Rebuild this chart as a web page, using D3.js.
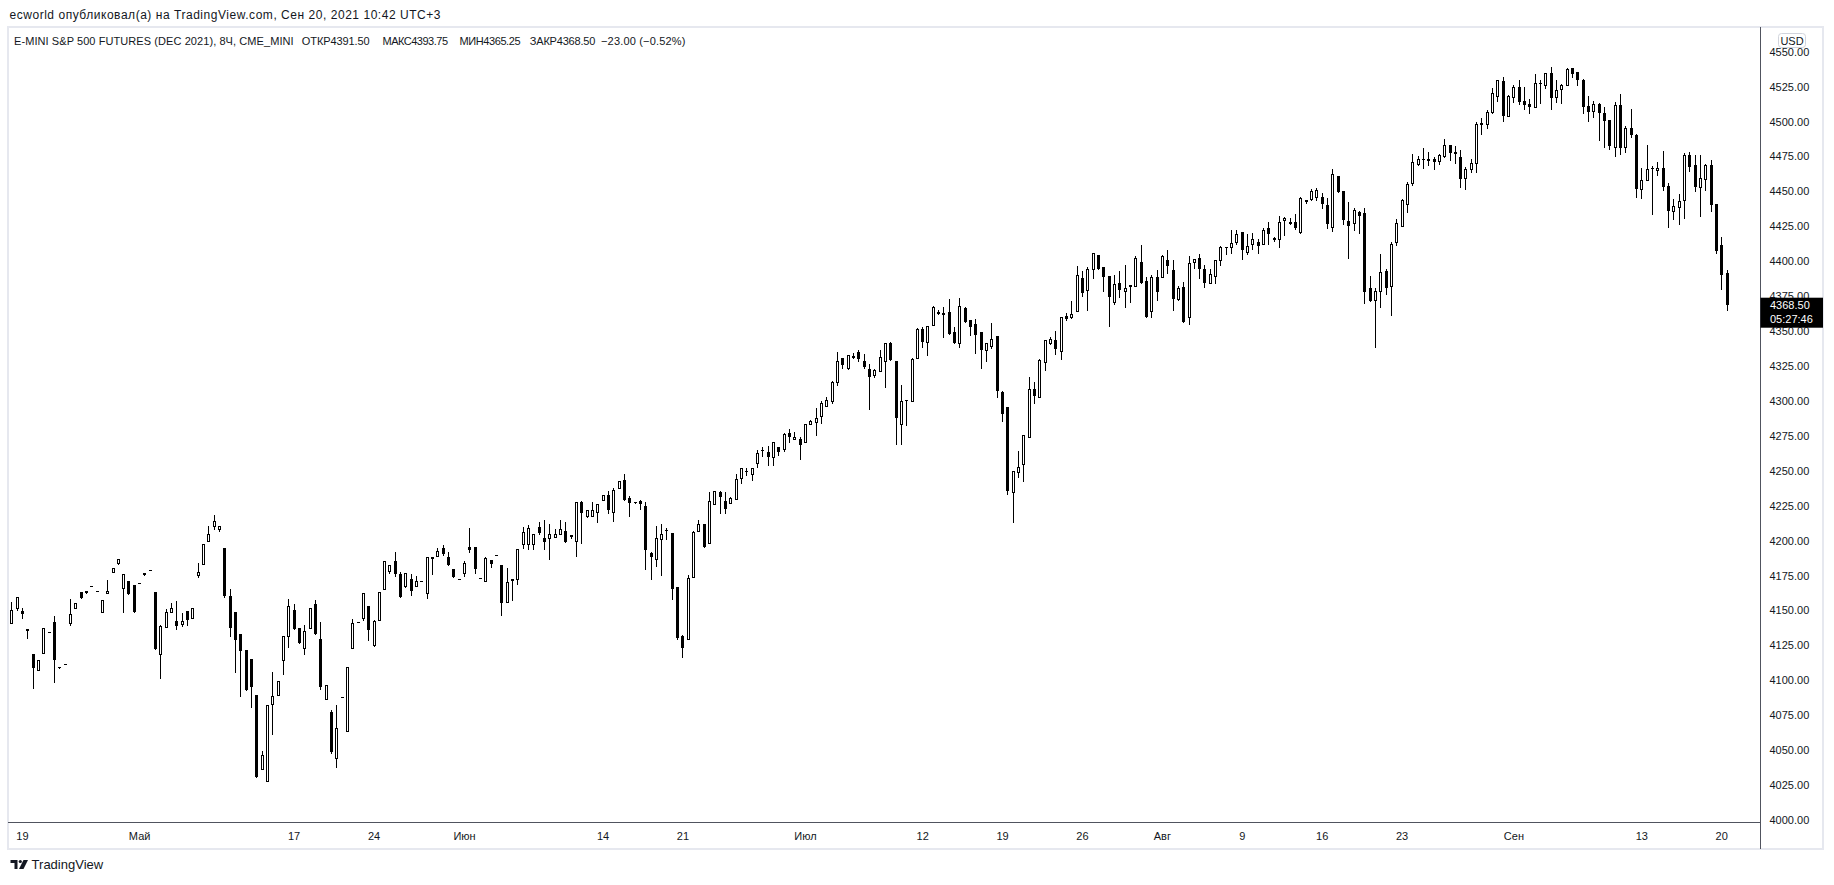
<!DOCTYPE html>
<html>
<head>
<meta charset="utf-8">
<script src="https://cdn.jsdelivr.net/npm/d3@7"></script>
<style>
html,body{margin:0;padding:0;background:#ffffff;}
svg{display:block;font-family:"Liberation Sans",Arial,sans-serif;}
</style>
</head>
<body>
<svg id="chart" width="1834" height="885"></svg>
<script>
// ---------- DATA (8H bars, E-mini S&P 500 Dec 2021) ----------
const openP = [
4140.8,4151.5,4149.6,4136.5,4118.8,4107.2,4119.3,4134.4,4141.8,4109.3,
4111.4,4140.8,4151.5,4163.0,4163.7,4167.3,4163.7,4149.1,4162.3,4177.3,
4184.2,4165.9,4170.9,4168.2,4169.4,4176.6,4178.7,4163.2,4119.1,4138.4,
4149.1,4142.5,4140.3,4149.6,4144.9,4175.2,4183.0,4199.5,4210.2,4208.1,
4194.7,4160.4,4148.9,4132.9,4121.7,4115.3,4089.5,4036.8,4027.5,4083.3,
4089.7,4114.3,4132.0,4150.1,4137.2,4123.4,4137.2,4154.6,4129.6,4086.4,
4077.6,4044.2,4087.8,4064.0,4123.4,4141.5,4144.9,4153.2,4125.5,4143.0,
4165.1,4178.0,4185.2,4176.1,4167.3,4172.5,4167.7,4170.9,4162.3,4187.5,
4188.7,4194.7,4188.3,4179.7,4172.5,4176.6,4195.2,4195.4,4173.2,4171.3,
4186.1,4189.5,4182.5,4156.3,4172.0,4172.3,4197.3,4197.8,4197.3,4209.7,
4201.6,4201.6,4202.8,4205.0,4206.9,4203.8,4200.0,4227.4,4217.4,4217.4,
4220.2,4229.3,4232.4,4220.2,4237.4,4243.4,4230.2,4227.9,4228.3,4224.8,
4190.9,4186.6,4200.9,4207.4,4205.2,4166.8,4131.7,4129.3,4173.7,4206.9,
4211.6,4198.0,4226.0,4234.5,4228.1,4226.7,4229.8,4244.8,4249.8,4247.4,
4255.3,4264.6,4263.2,4259.6,4266.8,4265.8,4276.8,4272.5,4273.0,4270.4,
4283.2,4285.1,4289.0,4296.1,4299.7,4313.5,4330.5,4323.8,4331.7,4334.8,
4328.6,4323.1,4318.8,4321.2,4328.8,4341.2,4328.6,4283.7,4300.7,4299.7,
4331.0,4351.7,4342.4,4354.1,4363.2,4362.9,4363.7,4349.6,4341.2,4366.3,
4357.9,4355.1,4349.3,4336.2,4339.6,4346.5,4306.4,4295.7,4234.6,4249.4,
4254.6,4274.2,4308.3,4303.1,4328.1,4341.7,4343.6,4336.0,4360.8,4360.3,
4364.1,4388.0,4379.6,4394.2,4404.5,4395.6,4389.4,4371.1,4384.4,4378.9,
4382.4,4382.0,4399.2,4385.9,4364.6,4388.5,4388.5,4400.7,4393.5,4373.0,
4381.3,4360.3,4399.7,4402.6,4394.2,4384.2,4389.2,4400.7,4410.4,4410.4,
4414.0,4420.7,4406.9,4412.1,4413.6,4412.1,4423.6,4416.6,4415.7,4429.8,
4427.7,4428.3,4421.2,4443.8,4444.8,4445.8,4446.0,4440.3,4424.8,4461.0,
4450.3,4428.6,4427.2,4435.1,4434.3,4380.7,4372.3,4378.8,4393.1,4381.9,
4413.4,4425.5,4441.3,4456.1,4469.9,4473.3,4473.2,4473.5,4471.6,4475.6,
4483.0,4478.5,4474.9,4459.9,4466.3,4470.1,4499.2,4498.0,4506.6,4518.1,
4528.8,4504.3,4517.9,4524.5,4514.8,4512.8,4510.2,4527.4,4526.0,4534.6,
4517.4,4523.1,4526.0,4538.1,4535.3,4529.8,4511.2,4507.8,4512.8,4506.4,
4501.2,4482.1,4511.9,4481.6,4495.2,4490.4,4451.5,4458.0,4466.8,4465.1,
4466.8,4453.9,4436.3,4439.1,4443.7,4475.9,4468.7,4453.4,4458.7,4468.7,
4441.0,4411.7,4391.5
];
const highP = [
4155.8,4159.4,4151.5,4136.5,4118.8,4114.6,4137.2,4134.6,4146.0,4109.3,
4111.4,4158.2,4155.1,4163.0,4163.7,4167.3,4163.7,4157.3,4171.6,4180.2,
4186.6,4175.9,4170.9,4168.2,4169.4,4176.6,4178.7,4163.2,4139.6,4150.8,
4155.4,4156.8,4148.0,4149.6,4151.5,4183.7,4197.3,4210.2,4218.3,4210.2,
4194.7,4165.1,4148.9,4132.9,4121.7,4115.3,4089.5,4049.4,4082.3,4106.0,
4099.5,4131.7,4158.2,4154.6,4137.2,4139.6,4151.5,4157.5,4141.8,4096.4,
4078.8,4082.3,4087.8,4109.3,4143.9,4141.5,4162.3,4153.2,4143.2,4163.0,
4185.2,4182.8,4191.9,4177.5,4176.8,4176.1,4174.7,4170.9,4188.0,4188.0,
4194.7,4196.9,4191.6,4179.7,4172.5,4185.4,4209.0,4195.4,4173.2,4188.0,
4186.1,4189.5,4182.5,4180.4,4172.5,4194.0,4210.0,4211.2,4204.5,4213.3,
4214.7,4211.7,4208.1,4214.5,4213.3,4203.8,4227.4,4228.1,4221.7,4227.6,
4226.0,4232.4,4235.5,4237.4,4242.9,4247.7,4231.9,4227.9,4229.1,4227.6,
4192.1,4210.4,4211.6,4208.8,4205.2,4166.8,4132.4,4175.4,4207.1,4214.7,
4211.6,4235.0,4235.3,4235.5,4235.0,4231.4,4247.7,4252.2,4251.7,4251.7,
4264.8,4267.2,4267.9,4270.8,4266.8,4276.8,4279.9,4277.8,4274.4,4283.2,
4286.3,4295.2,4299.9,4303.0,4314.5,4335.3,4330.5,4332.6,4334.5,4336.5,
4333.3,4326.4,4322.9,4336.5,4341.7,4342.4,4328.6,4311.4,4300.7,4330.5,
4352.0,4353.2,4353.6,4367.9,4365.1,4367.0,4372.7,4352.7,4373.4,4367.5,
4357.9,4358.7,4349.3,4341.2,4356.0,4346.5,4307.4,4295.7,4249.9,4264.4,
4275.4,4317.4,4313.3,4330.3,4343.6,4346.0,4350.3,4359.8,4362.7,4371.5,
4396.6,4393.2,4395.6,4406.1,4404.5,4395.6,4389.4,4390.1,4393.0,4397.3,
4382.7,4404.0,4411.6,4388.5,4390.1,4393.7,4404.5,4407.8,4400.7,4382.1,
4385.4,4403.8,4401.9,4405.0,4397.1,4394.2,4400.7,4411.2,4410.4,4422.1,
4422.1,4420.7,4419.3,4420.5,4416.2,4423.8,4427.9,4417.3,4432.4,4431.9,
4430.7,4433.8,4446.0,4443.8,4451.7,4452.4,4448.6,4445.3,4466.0,4461.0,
4450.3,4442.7,4438.4,4436.0,4437.9,4389.5,4380.7,4405.2,4394.7,4413.4,
4430.3,4444.6,4456.5,4476.8,4475.6,4480.9,4478.0,4474.9,4476.8,4487.5,
4483.0,4482.5,4479.7,4467.7,4473.2,4499.5,4502.8,4508.3,4523.8,4529.8,
4531.7,4519.0,4526.2,4529.8,4524.5,4515.9,4533.8,4529.8,4535.0,4539.3,
4529.8,4526.9,4538.4,4538.1,4535.3,4530.3,4518.3,4514.5,4513.6,4510.5,
4501.2,4514.0,4519.8,4496.9,4508.8,4491.1,4466.8,4483.3,4468.2,4471.1,
4479.0,4455.8,4444.4,4448.2,4477.3,4478.0,4476.1,4476.1,4469.9,4472.8,
4441.0,4417.4,4393.75
];
const lowP = [
4140.8,4150.1,4144.4,4130.1,4094.3,4107.2,4119.3,4134.4,4099.0,4108.6,
4111.4,4139.4,4151.5,4159.2,4162.8,4167.3,4163.7,4149.1,4162.3,4177.3,
4183.5,4149.1,4162.0,4149.1,4169.4,4175.6,4178.7,4122.7,4101.9,4138.4,
4149.1,4136.7,4139.1,4139.6,4144.9,4174.2,4183.0,4199.5,4208.1,4206.7,
4159.6,4132.0,4106.2,4089.0,4093.3,4081.1,4031.0,4036.8,4027.5,4061.6,
4089.7,4104.8,4124.1,4137.0,4126.9,4119.1,4137.2,4133.4,4093.6,4086.4,
4047.7,4038.2,4087.8,4064.0,4123.4,4141.5,4143.4,4129.1,4124.8,4143.0,
4165.1,4176.6,4174.7,4159.4,4167.0,4161.1,4167.7,4170.9,4159.2,4176.1,
4188.7,4189.7,4182.8,4174.2,4172.5,4174.9,4192.1,4176.6,4173.2,4171.3,
4181.3,4189.5,4147.0,4156.3,4157.5,4169.0,4195.0,4194.2,4194.2,4204.7,
4194.0,4187.1,4202.8,4205.0,4199.2,4201.9,4189.2,4198.1,4217.1,4217.4,
4213.1,4229.3,4220.0,4214.3,4237.4,4229.3,4217.8,4226.7,4222.4,4179.9,
4172.7,4182.0,4175.6,4200.9,4157.9,4129.6,4116.4,4129.3,4173.7,4206.9,
4195.6,4198.0,4226.0,4220.0,4220.0,4226.7,4229.8,4241.0,4247.2,4243.1,
4252.9,4260.8,4253.9,4254.1,4261.3,4264.4,4270.6,4272.5,4258.2,4270.4,
4283.2,4275.8,4284.0,4296.1,4298.3,4311.2,4323.8,4322.6,4331.0,4328.8,
4323.6,4294.5,4317.4,4321.2,4310.2,4329.1,4269.4,4269.4,4282.8,4299.7,
4331.0,4338.8,4332.9,4354.1,4362.0,4346.0,4347.7,4341.7,4338.8,4356.7,
4347.4,4334.1,4323.8,4328.8,4338.1,4303.1,4285.9,4233.4,4213.6,4245.8,
4242.9,4274.2,4298.8,4303.1,4322.1,4340.8,4333.8,4330.3,4357.7,4359.6,
4364.1,4375.4,4365.3,4387.8,4394.2,4378.9,4353.9,4369.2,4374.6,4367.5,
4370.8,4382.0,4384.2,4360.3,4360.3,4372.0,4388.5,4391.3,4365.3,4372.0,
4356.8,4354.9,4394.9,4387.8,4381.3,4384.2,4384.2,4397.3,4405.2,4406.2,
4412.4,4401.9,4405.4,4408.5,4406.2,4412.1,4412.4,4414.5,4410.4,4419.0,
4426.7,4423.1,4420.0,4441.5,4443.8,4443.6,4438.4,4423.6,4421.9,4449.8,
4426.9,4402.1,4422.4,4420.0,4370.4,4371.3,4338.9,4367.5,4376.6,4361.6,
4411.7,4425.5,4435.5,4454.9,4469.2,4467.0,4469.2,4466.1,4469.4,4474.4,
4472.5,4470.6,4453.2,4452.0,4464.2,4464.2,4491.1,4495.2,4505.9,4515.0,
4500.7,4504.3,4513.8,4512.4,4509.0,4505.9,4510.2,4513.1,4524.3,4509.3,
4514.3,4513.6,4526.0,4531.7,4526.4,4506.4,4500.7,4503.5,4486.8,4481.8,
4480.2,4475.4,4476.8,4478.2,4488.7,4446.3,4445.6,4458.0,4433.9,4461.8,
4451.0,4424.8,4430.3,4426.7,4431.2,4464.6,4450.3,4432.7,4451.0,4436.3,
4405.7,4380.4,4365.25
];
const closeP = [
4150.1,4159.4,4147.2,4135.5,4109.1,4114.6,4137.2,4134.6,4114.3,4108.6,
4111.4,4147.5,4155.1,4159.2,4162.8,4167.3,4163.7,4157.3,4163.7,4180.2,
4186.6,4175.9,4162.0,4149.1,4169.4,4175.6,4178.7,4122.7,4138.9,4148.9,
4151.5,4139.1,4142.5,4143.4,4151.5,4177.3,4197.3,4204.5,4213.8,4210.2,
4160.4,4137.7,4129.1,4121.2,4093.3,4094.8,4031.0,4046.5,4082.3,4088.8,
4099.5,4131.7,4153.2,4137.0,4126.9,4135.1,4151.5,4133.4,4094.8,4096.4,
4048.9,4065.6,4087.8,4109.3,4141.0,4141.5,4162.3,4136.3,4142.2,4163.0,
4185.2,4182.8,4176.1,4159.4,4176.8,4164.2,4171.1,4170.9,4188.0,4188.0,
4192.6,4190.7,4182.8,4174.2,4172.5,4183.7,4193.3,4179.9,4173.2,4187.3,
4183.0,4189.5,4155.6,4170.1,4172.5,4194.0,4206.2,4208.8,4204.5,4205.7,
4199.2,4204.5,4204.7,4208.1,4199.2,4202.6,4227.4,4219.5,4221.7,4221.9,
4226.0,4232.4,4222.1,4236.0,4242.9,4229.3,4227.1,4226.7,4225.9,4193.0,
4188.5,4201.6,4204.5,4207.6,4165.6,4130.3,4122.9,4173.0,4205.9,4211.6,
4195.6,4228.1,4235.3,4231.4,4222.8,4230.2,4243.8,4252.2,4248.9,4251.7,
4262.5,4264.8,4260.1,4270.8,4263.6,4276.3,4273.9,4274.4,4268.2,4283.2,
4285.4,4287.8,4298.3,4300.7,4313.5,4328.3,4325.5,4332.6,4332.0,4330.0,
4324.3,4317.4,4322.1,4331.2,4341.2,4329.1,4288.0,4299.7,4299.7,4330.0,
4351.2,4342.2,4353.6,4367.2,4363.4,4361.7,4347.7,4341.7,4367.9,4356.7,
4353.2,4347.4,4336.7,4341.2,4344.3,4307.4,4290.9,4235.8,4249.9,4252.5,
4275.4,4308.5,4303.5,4329.3,4343.6,4344.3,4337.4,4359.8,4358.9,4362.2,
4390.1,4377.0,4394.2,4406.1,4394.2,4388.5,4374.2,4383.7,4379.6,4380.6,
4382.7,4402.1,4384.2,4360.3,4388.5,4378.0,4403.8,4396.4,4373.2,4380.6,
4356.8,4399.0,4401.9,4394.2,4384.7,4390.9,4400.7,4410.4,4409.2,4413.1,
4419.3,4408.3,4410.9,4415.7,4411.2,4422.4,4419.3,4415.0,4428.3,4431.2,
4427.9,4424.1,4445.3,4442.7,4450.3,4451.0,4441.2,4426.9,4462.2,4449.8,
4429.3,4425.5,4436.5,4432.2,4377.6,4371.3,4378.5,4392.1,4380.9,4412.2,
4427.2,4443.9,4455.1,4470.8,4473.2,4473.5,4472.0,4470.8,4476.1,4483.0,
4477.3,4477.1,4459.2,4466.1,4470.1,4498.0,4497.8,4507.1,4520.2,4529.5,
4504.3,4518.1,4524.5,4514.3,4512.1,4510.7,4527.4,4526.7,4534.6,4517.1,
4522.4,4526.2,4537.4,4533.8,4529.5,4510.7,4507.1,4512.6,4505.9,4500.7,
4482.5,4511.9,4481.1,4495.2,4490.2,4451.5,4458.0,4466.1,4465.8,4466.8,
4453.4,4436.3,4439.6,4443.2,4476.1,4467.5,4453.4,4459.6,4468.9,4440.5,
4407.6,4390.4,4368.5
];
// time-axis ticks (bar index of the first bar of the labelled day)
const tickIndex  = [2, 24, 53, 68, 85, 111, 126, 149, 171, 186, 201, 216, 231, 246, 261, 282, 306, 321];
const tickLabels = ["19","Май","17","24","Июн","14","21","Июл","12","19","26","Авг","9","16","23","Сен","13","20"];
const priceTicks = d3.range(4000, 4551, 25);
const headerText = "ecworld опубликовал(а) на TradingView.com, Сен 20, 2021 10:42 UTC+3";
const legendParts = ["E-MINI S&P 500 FUTURES (DEC 2021), 8Ч, CME_MINI", "ОТКР4391.50", "МАКС4393.75", "МИН4365.25", "ЗАКР4368.50", "−23.00 (−0.52%)"];
const lastPriceText = "4368.50";
const countdownText = "05:27:46";

// ---------- LAYOUT ----------
const svg = d3.select("#chart");
const W = 1834, H = 885;
const pane = {left: 8, top: 27, right: 1823, bottom: 849};
const axisX = 1760.5;   // price-axis separator
const axisY = 822.5;    // time-axis separator
const TXT = "#131722";

const n = openP.length;
const x = d3.scaleLinear().domain([0, n - 1]).range([11.3, 1726.5]);
const y = d3.scaleLinear().domain([4000, 4550]).range([819.9, 51.7]);

svg.append("rect").attr("width", W).attr("height", H).attr("fill", "#fff");

// header
svg.append("text").attr("x", 9.5).attr("y", 18.5)
  .attr("font-size", 12).attr("fill", TXT)
  .attr("textLength", 431).attr("lengthAdjust", "spacing")
  .text(headerText);

// pane frame
svg.append("rect")
  .attr("x", pane.left).attr("y", pane.top)
  .attr("width", pane.right - pane.left).attr("height", pane.bottom - pane.top)
  .attr("fill", "none").attr("stroke", "#e6e8ef").attr("stroke-width", 2);

// clip for candles
svg.append("defs").append("clipPath").attr("id", "plotclip")
  .append("rect").attr("x", pane.left + 1).attr("y", pane.top + 1)
  .attr("width", axisX - pane.left - 1).attr("height", axisY - pane.top - 1);

const g = svg.append("g").attr("clip-path", "url(#plotclip)").attr("shape-rendering", "crispEdges");

const bars = d3.range(n).map(i => ({i, o: openP[i], h: highP[i], l: lowP[i], c: closeP[i]}));

bars.forEach(d => {
  const px = Math.round(x(d.i));
  const yH = Math.round(y(d.h)), yL = Math.round(y(d.l));
  const yO = Math.round(y(d.o)), yC = Math.round(y(d.c));
  const top = Math.min(yO, yC), bot = Math.max(yO, yC);
  // wick
  if (yL - yH > 0) {
    g.append("rect").attr("x", px).attr("y", yH).attr("width", 1).attr("height", yL - yH + 1).attr("fill", "#000");
  }
  const up = d.c >= d.o;
  const hgt = bot - top;
  if (!up || hgt < 2) {
    g.append("rect").attr("x", px - 1).attr("y", top).attr("width", 3).attr("height", Math.max(1, hgt + (up ? 1 : 0)))
      .attr("fill", "#000");
  } else {
    g.append("rect").attr("x", px - 0.5).attr("y", top + 0.5).attr("width", 2).attr("height", hgt)
      .attr("fill", "#fff").attr("stroke", "#000").attr("stroke-width", 1);
  }
});

// axis separator lines
svg.append("line").attr("x1", axisX).attr("x2", axisX).attr("y1", pane.top).attr("y2", pane.bottom)
  .attr("stroke", "#50535e").attr("stroke-width", 1);
svg.append("line").attr("x1", pane.left).attr("x2", axisX).attr("y1", axisY).attr("y2", axisY)
  .attr("stroke", "#50535e").attr("stroke-width", 1);

// price axis
const yAxis = d3.axisRight(y).tickValues(priceTicks).tickFormat(d => d.toFixed(2)).tickSize(0).tickPadding(9);
const ga = svg.append("g").attr("transform", `translate(${axisX},0)`).call(yAxis);
ga.select(".domain").remove();
ga.selectAll("text").attr("font-size", 11).attr("fill", TXT).attr("font-family", '"Liberation Sans",Arial,sans-serif');

// time axis
const xAxis = d3.axisBottom(x).tickValues(tickIndex).tickFormat((d, k) => tickLabels[k]).tickSize(0).tickPadding(10);
const gx = svg.append("g").attr("transform", `translate(0,${axisY})`).call(xAxis);
gx.select(".domain").remove();
gx.selectAll("text").attr("font-size", 11).attr("fill", TXT).attr("font-family", '"Liberation Sans",Arial,sans-serif');

// USD badge
svg.append("rect").attr("x", 1778.5).attr("y", 33.5).attr("width", 27).attr("height", 14).attr("rx", 3)
  .attr("fill", "#fff").attr("stroke", "#d1d4dc");
svg.append("text").attr("x", 1792).attr("y", 44.5).attr("text-anchor", "middle")
  .attr("font-size", 11).attr("fill", TXT).text("USD");

// last price label
const lastY = y(closeP[n - 1]);
svg.append("rect").attr("x", axisX).attr("y", lastY - 7.5).attr("width", 1823 - axisX).attr("height", 30)
  .attr("fill", "#000");
svg.append("text").attr("x", 1770).attr("y", lastY + 4).attr("font-size", 11).attr("fill", "#fff").text(lastPriceText);
svg.append("text").attr("x", 1770).attr("y", lastY + 18).attr("font-size", 11).attr("fill", "#fff").text(countdownText);

// legend
const legendPos = [[14, 279.6], [301.8, 67.8], [382.5, 65.5], [459.6, 60.9], [529.8, 65.5], [601, 84.4]];
legendParts.forEach((t, k) => {
  svg.append("text").attr("x", legendPos[k][0]).attr("y", 45).attr("font-size", 11).attr("fill", TXT)
    .attr("textLength", legendPos[k][1]).attr("lengthAdjust", "spacing").text(t);
});

// TradingView logo
const logo = svg.append("g").attr("transform", "translate(10.5,860)").attr("fill", "#131722");
logo.append("path").attr("d", "M0 0 H7 V9 H4 V3 H0 Z");
logo.append("circle").attr("cx", 9.8).attr("cy", 1.5).attr("r", 1.6);
logo.append("path").attr("d", "M13 0 H17.5 L13 9 H8.5 Z");
svg.append("text").attr("x", 31.6).attr("y", 869).attr("font-size", 13).attr("fill", TXT).text("TradingView");
</script>
</body>
</html>
